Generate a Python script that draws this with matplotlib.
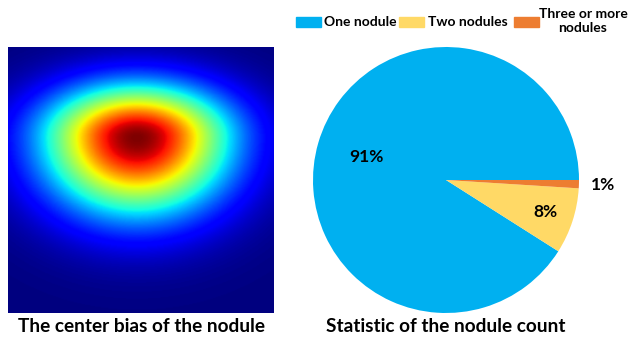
import numpy as np
import matplotlib.pyplot as plt
from matplotlib.patches import Rectangle

plt.rcParams['font.family'] = ['Lato', 'DejaVu Sans']

# pie data
labels = ['One nodule', 'Two nodules', 'Three or more\nnodules']
shares = [91, 8, 1]
colors = ['#00B0F0', '#FFD966', '#ED7D31']
pct_dist = [0.62, 0.79, 1.18]

# center bias map (normalised coords of peak and spreads)
cx, cy = 0.485, 0.34
sx, sy_up, sy_down = 0.24, 0.135, 0.195

fig = plt.figure(figsize=(6.3, 3.4), dpi=100)

# heatmap
ax1 = fig.add_axes([8/630, 27/340, 266/630, 266/340])
n = 300
xx, yy = np.meshgrid(np.linspace(0, 1, n), np.linspace(0, 1, n))
sy = np.where(yy < cy, sy_up, sy_down)
field = np.exp(-((xx - cx)**2 / (2*sx**2) + (yy - cy)**2 / (2*sy**2)))
ax1.imshow(field, cmap='jet', vmin=0, vmax=1, extent=[0, 1, 1, 0], aspect='auto',
           interpolation='bilinear')
ax1.set_xticks([]); ax1.set_yticks([])
for s in ax1.spines.values():
    s.set_visible(False)
fig.text(141/630, 1 - 327/340, 'The center bias of the nodule', ha='center', va='center',
         fontsize=13.7, fontweight='bold')

# pie
ax2 = fig.add_axes([313/630, 27/340, 266/630, 266/340])
wedges, _, autotexts = ax2.pie(shares, colors=colors, startangle=0, autopct='%d%%',
                               textprops=dict(fontsize=12.5, fontweight='bold', color='black'))
for w, t, d in zip(wedges, autotexts, pct_dist):
    ang = np.deg2rad((w.theta1 + w.theta2) / 2)
    t.set_position((d*np.cos(ang), d*np.sin(ang)))
ax2.set_xlim(-1, 1); ax2.set_ylim(-1, 1)
fig.text(446/630, 1 - 327/340, 'Statistic of the nodule count', ha='center', va='center',
         fontsize=13.7, fontweight='bold')

# legend row on top (patch left edge, text centre in pixels)
patch_x = [296, 399, 514]
text_x = [360, 468, 583]
for px, tx, c, lab in zip(patch_x, text_x, colors, labels):
    fig.patches.append(Rectangle((px/630, 1 - 27/340), 25/630, 10/340, color=c,
                                 transform=fig.transFigure))
    ty = 21 if '\n' in lab else 22
    fig.text(tx/630, 1 - ty/340, lab, ha='center', va='center', fontsize=10,
             fontweight='bold', linespacing=1.25)

fig.savefig('out.png', dpi=100)
